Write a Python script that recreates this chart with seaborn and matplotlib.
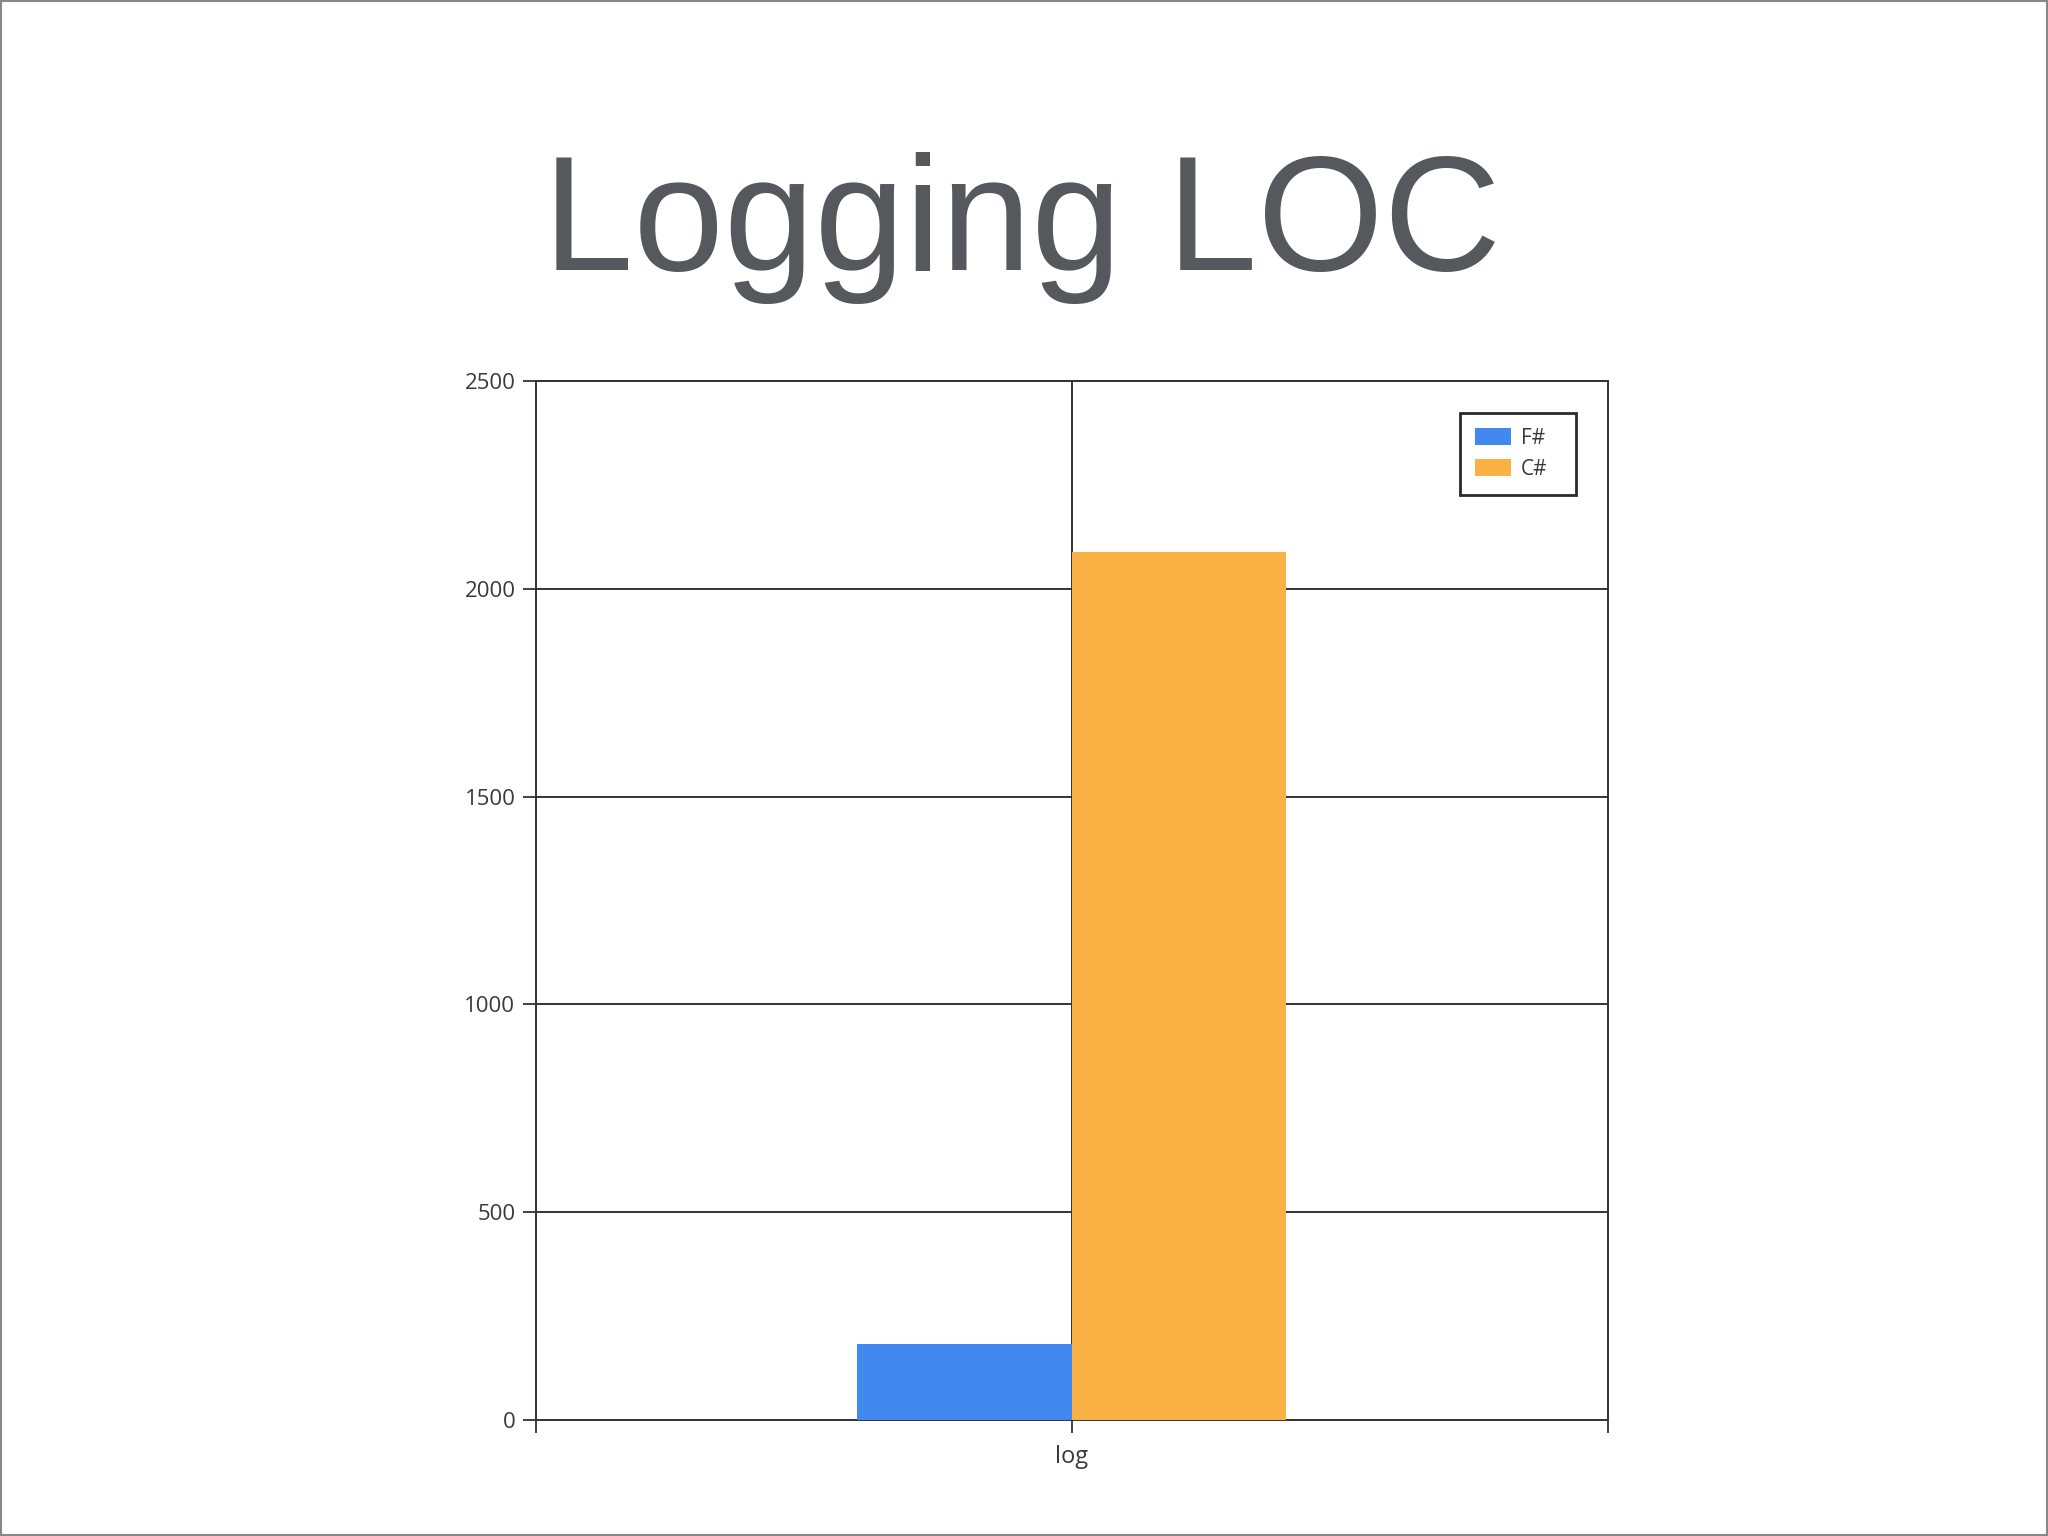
import matplotlib
matplotlib.use("Agg")
import matplotlib.pyplot as plt
import seaborn as sns
import pandas as pd
from matplotlib.patches import Rectangle

# ---- data ----
categories = ["log"]
languages = ["F#", "C#"]
fsharp_loc = [183]
csharp_loc = [2090]
colors = ["#4189ee", "#fbb244"]
yticks = [0, 500, 1000, 1500, 2000, 2500]
title = "Logging LOC"

rows = []
for i, c in enumerate(categories):
    rows.append({"category": c, "language": languages[0], "loc": fsharp_loc[i]})
    rows.append({"category": c, "language": languages[1], "loc": csharp_loc[i]})
df = pd.DataFrame(rows)

sns.set_theme(style="white")
plt.rcParams["font.family"] = ["Open Sans", "DejaVu Sans"]

fig = plt.figure(figsize=(20.48, 15.36), dpi=100)
fig.patch.set_facecolor("white")
ax = fig.add_axes([0.2615, 0.0757, 0.5235, 0.676])

sns.barplot(data=df, x="category", y="loc", hue="language", hue_order=languages,
            palette=colors, width=0.4, saturation=1, ax=ax, errorbar=None,
            edgecolor="none", linewidth=0, zorder=3)

ax.set_xlim(-0.5, 0.5)
ax.set_ylim(0, 2500)
ax.set_yticks(yticks)
ax.set_yticklabels([str(v) for v in yticks])
ax.set_xlabel("")
ax.set_ylabel("")
ax.set_xticks([-0.5, 0.5], minor=True)

gridc = "#333333"
ax.set_axisbelow(True)
ax.yaxis.grid(True, color=gridc, linewidth=1.4)
ax.xaxis.grid(True, which="major", color=gridc, linewidth=1.4)
for s in ax.spines.values():
    s.set_visible(True)
    s.set_color(gridc)
    s.set_linewidth(1.4)

ax.tick_params(axis="y", which="major", left=True, length=9.5, width=1.3,
               color=gridc, labelsize=16, labelcolor="#3a3a3a", pad=5)
ax.tick_params(axis="x", which="both", bottom=True, length=9.5, width=1.3,
               color=gridc, labelsize=17, labelcolor="#3a3a3a", pad=9)

leg = ax.legend(loc="upper left", bbox_to_anchor=(0.8624, 0.0, 0.1084, 0.9696),
                mode="expand", frameon=True,
                fancybox=False, fontsize=15, handlelength=1.75, handleheight=0.9,
                borderpad=0.7, labelspacing=0.5, handletextpad=0.45,
                borderaxespad=0)
leg.get_frame().set_edgecolor("#2a2a2a")
leg.get_frame().set_linewidth(2.0)
leg.get_frame().set_alpha(1)
for t in leg.get_texts():
    t.set_color("#3a3a3a")

fig.text(0.499, 0.824, title, ha="center", va="baseline", fontsize=117,
         color="#55585c", family=["Liberation Sans", "DejaVu Sans"])

fig.patches.append(Rectangle((0.0005, 0.0007), 0.999, 0.9986, transform=fig.transFigure,
                             fill=False, edgecolor="#888888", linewidth=1.5))

fig.savefig("out.png", dpi=100, facecolor="white")
